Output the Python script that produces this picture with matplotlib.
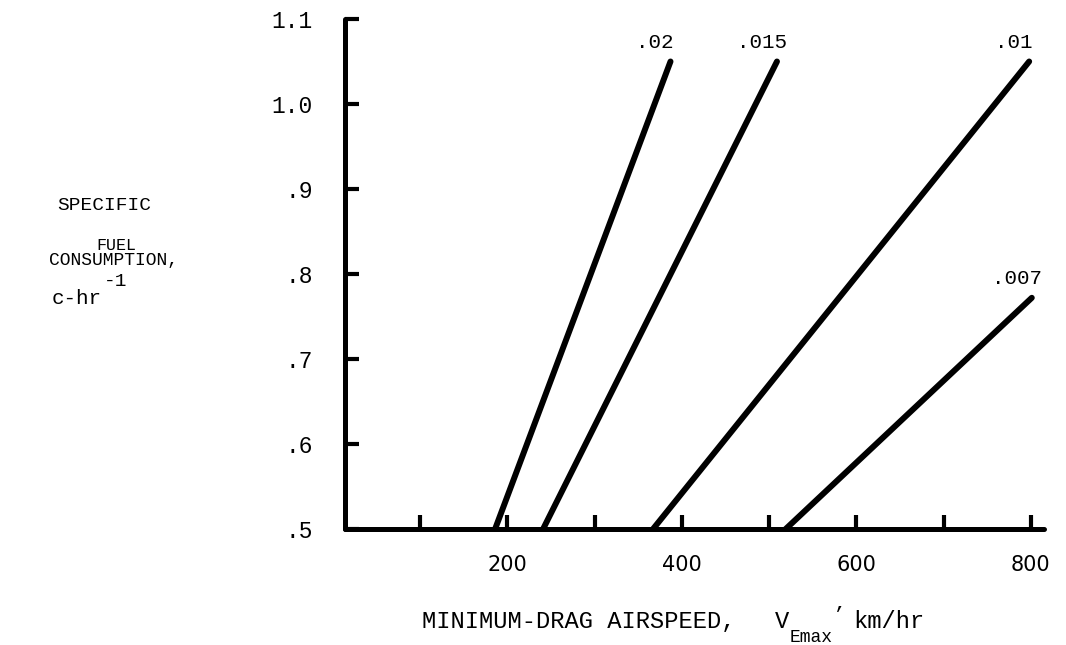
import matplotlib
matplotlib.use("Agg")
import matplotlib.pyplot as plt

# Data
curve_labels = [".02", ".015", ".01", ".007"]
x_start = [186, 241, 367, 519]      # airspeed at c = 0.5
x_end = [387, 509, 798, 801]        # airspeed at top of line
y_start = [0.5, 0.5, 0.5, 0.5]
y_end = [1.05, 1.05, 1.05, 0.772]
xticks = [100, 200, 300, 400, 500, 600, 700, 800]
xtick_labels = ["", "200", "", "400", "", "600", "", "800"]
yticks = [0.5, 0.6, 0.7, 0.8, 0.9, 1.0, 1.1]
ytick_labels = [".5", ".6", ".7", ".8", ".9", "1.0", "1.1"]

MONO = "Liberation Mono"
W, H = 1066, 645
fig = plt.figure(figsize=(W / 100, H / 100), dpi=100)
ax_l, ax_r, ax_b, ax_t = 345, 1044, 529, 19
ax = fig.add_axes([ax_l / W, 1 - ax_b / H, (ax_r - ax_l) / W, (ax_b - ax_t) / H])
ax.set_xlim(14, 815)
ax.set_ylim(0.5, 1.1)


def ftext(x, y, s, **kw):
    kw.setdefault("family", MONO)
    kw.setdefault("va", "center")
    return fig.text(x / W, 1 - y / H, s, **kw)


for xs, xe, ys, ye in zip(x_start, x_end, y_start, y_end):
    ax.plot([xs, xe], [ys, ye], color="black", lw=4.3, solid_capstyle="round",
            clip_on=False)

for lab, xe, ye in zip(curve_labels, x_end, y_end):
    ax.annotate(lab, (xe, ye), xytext=(-11, 7), textcoords="offset points",
                ha="center", va="bottom", fontsize=15, family=MONO)

for s in ["top", "right"]:
    ax.spines[s].set_visible(False)
for s in ["left", "bottom"]:
    ax.spines[s].set_linewidth(3.6)
    ax.spines[s].set_capstyle("round")

ax.set_xticks(xticks)
ax.set_xticklabels(xtick_labels, family="DejaVu Sans", fontsize=15)
ax.set_yticks(yticks)
ax.set_yticklabels(ytick_labels, family=MONO, fontsize=16.5)
ax.tick_params(axis="x", direction="in", length=10, width=3, pad=19)
ax.tick_params(axis="y", direction="in", length=10, width=3, pad=23)

# y label (stacked text)
ftext(104, 205, "SPECIFIC", ha="center", fontsize=14)
ftext(116, 245, "FUEL", ha="center", fontsize=12)
ftext(113, 261, "CONSUMPTION,", ha="center", fontsize=13)
ftext(52, 299, "c-hr", ha="left", fontsize=15)
ftext(104, 281, "-1", ha="left", fontsize=14)

# x label with subscript
ftext(422, 622, "MINIMUM-DRAG AIRSPEED,", ha="left", fontsize=17.1)
ftext(775, 622, "V", ha="left", fontsize=17.1)
ftext(790, 637, "Emax", ha="left", fontsize=13)
ftext(833, 615, "\u2019", ha="left", fontsize=15)
ftext(853, 622, "km/hr", ha="left", fontsize=17.1)

fig.savefig("out.png", dpi=100)
